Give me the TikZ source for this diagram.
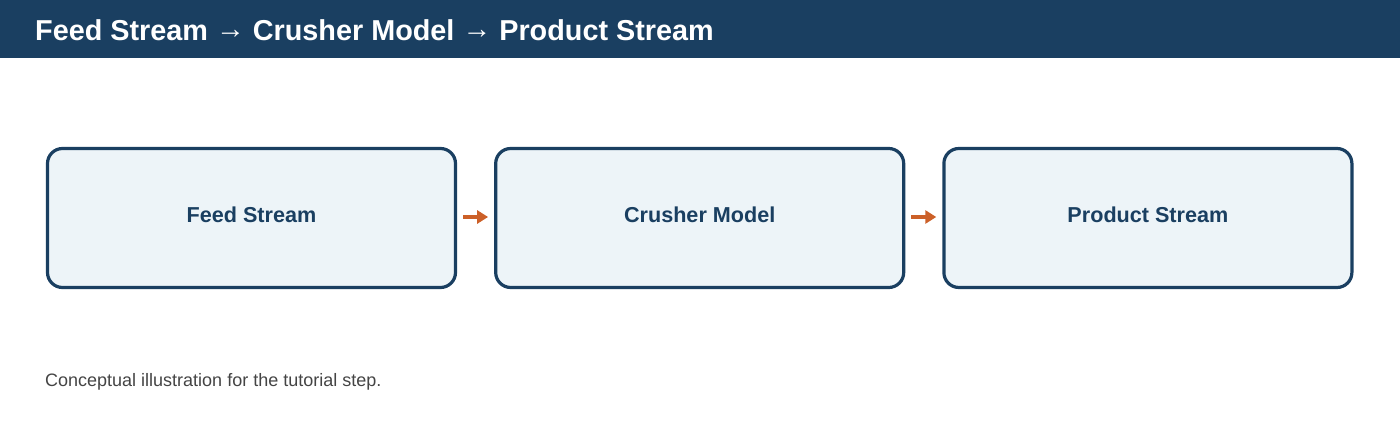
\documentclass[tikz,border=0pt]{standalone}
\usepackage{fontspec}
\setmainfont{Liberation Sans}
\usetikzlibrary{arrows.meta,positioning}
\definecolor{navy}{HTML}{1A3F61}
\definecolor{paleblue}{HTML}{EDF4F8}
\definecolor{rust}{HTML}{CC6028}
\definecolor{greytext}{HTML}{444444}
\tikzset{
  stage/.style={draw=navy,line width=3.2pt,fill=paleblue,rounded corners=15pt,
    minimum width=408pt,minimum height=139pt,text=navy,text depth=6pt,
    font=\bfseries\fontsize{21.6}{26}\selectfont},
  flow/.style={draw=rust,line width=4pt,-{Triangle[length=11pt,width=13pt]}}
}
\begin{document}
\begin{tikzpicture}[x=1pt,y=1pt]
    \useasboundingbox (0,0) rectangle (1400,-430);
    \fill[navy] (0,0) rectangle (1400,-58);
    \node[anchor=west,inner sep=0pt,text=white,font=\bfseries\fontsize{28.8}{32}\selectfont] (title) at (35,-30)
      {Feed Stream \raisebox{2pt}{→} Crusher Model \raisebox{2pt}{→} Product Stream};
    \node[stage] (feed) at (251.5,-218) {Feed Stream};
    \node[stage,right=37pt of feed] (crusher) {Crusher Model};
    \node[stage,right=37pt of crusher] (product) {Product Stream};
    \foreach \a/\b in {feed/crusher,crusher/product}
      \draw[flow] ([xshift=6pt,yshift=1pt]\a.east) -- ([xshift=-6pt,yshift=1pt]\b.west);
    \node[anchor=west,inner sep=0pt,text=greytext,font=\fontsize{18}{21}\selectfont] (note) at (45,-382)
      {Conceptual illustration for the tutorial step.};
  \end{tikzpicture}
\end{document}
